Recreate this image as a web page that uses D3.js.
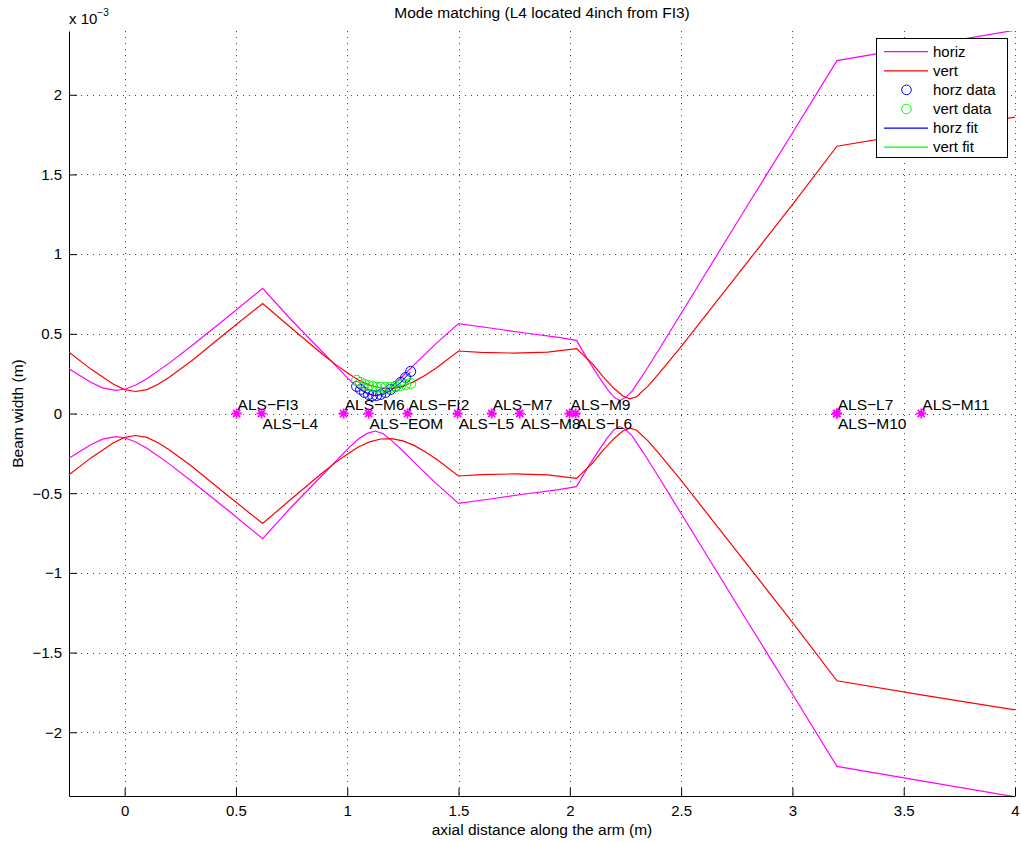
<!DOCTYPE html>
<html>
<head>
<meta charset="utf-8">
<script src="https://cdn.jsdelivr.net/npm/d3@7"></script>
<style>
  body { margin: 0; background: #fff; }
  text { font-family: "Liberation Sans", Arial, Helvetica, sans-serif; fill: #000; }
</style>
</head>
<body>
<div id="chart"></div>
<script>
// beam width envelope (units of 1e-3 m)
const horizX = [-0.25, -0.2, -0.15, -0.1, -0.04, 0.0, 0.05, 0.1, 0.2, 0.3, 0.45, 0.62,
                0.75, 0.9, 1.0, 1.05, 1.09, 1.125, 1.16, 1.2, 1.25, 1.3, 1.4, 1.5,
                1.65, 1.8, 1.95, 2.03,
                2.08, 2.13, 2.17, 2.2, 2.225, 2.25, 2.28, 2.33, 2.4, 2.6, 2.8, 3.0, 3.2,
                3.6, 4.0];
const horizW = [0.28, 0.237, 0.194, 0.161, 0.145, 0.152, 0.179, 0.218, 0.316, 0.423, 0.591, 0.785,
                0.585, 0.37, 0.225, 0.16, 0.125, 0.11, 0.125, 0.17, 0.235, 0.305, 0.44, 0.564,
                0.535, 0.505, 0.478, 0.459,
                0.34, 0.231, 0.15, 0.1, 0.082, 0.1, 0.14, 0.245, 0.4, 0.855, 1.31, 1.76, 2.214,
                2.31, 2.405];

const vertX = [-0.25, -0.15, -0.05, 0.0, 0.05, 0.1, 0.15, 0.2, 0.3, 0.45, 0.62,
               0.75, 0.89, 0.95, 1.0, 1.05, 1.1, 1.15, 1.2, 1.25, 1.3, 1.35, 1.4, 1.5,
               1.6, 1.75, 1.9, 2.03,
               2.1, 2.15, 2.2, 2.24, 2.27, 2.3, 2.35, 2.4, 2.5, 2.7, 3.0, 3.2,
               3.6, 4.0];
const vertW = [0.385, 0.277, 0.183, 0.15, 0.138, 0.15, 0.183, 0.227, 0.33, 0.5, 0.69,
               0.535, 0.37, 0.305, 0.255, 0.21, 0.178, 0.16, 0.158, 0.172, 0.2, 0.24, 0.285, 0.392,
               0.383, 0.379, 0.385, 0.407,
               0.315, 0.23, 0.155, 0.108, 0.092, 0.105, 0.17, 0.25, 0.42, 0.775, 1.31, 1.677,
               1.77, 1.86];

// measured points
const dataX = [1.042, 1.060, 1.078, 1.096, 1.114, 1.132, 1.150, 1.172, 1.195, 1.217, 1.240, 1.262, 1.285];
const horzData = [0.170, 0.151, 0.132, 0.119, 0.113, 0.113, 0.119, 0.132, 0.151, 0.170, 0.195, 0.226, 0.264];
const vertData = [0.208, 0.195, 0.182, 0.176, 0.170, 0.164, 0.164, 0.164, 0.164, 0.170, 0.176, 0.182, 0.189];

const fitX = [1.04, 1.08, 1.12, 1.16, 1.2, 1.24, 1.285];
const horzFit = [0.168, 0.133, 0.114, 0.118, 0.148, 0.195, 0.262];
const vertFit = [0.205, 0.182, 0.168, 0.163, 0.165, 0.175, 0.19];

// optics along the arm
const optics = ["ALS−FI3", "ALS−L4", "ALS−M6", "ALS−EOM", "ALS−FI2", "ALS−L5", "ALS−M7",
                "ALS−M8", "ALS−M9", "ALS−L6", "ALS−L7", "ALS−M10", "ALS−M11"];
const opticsPos = [0.503, 0.615, 0.984, 1.096, 1.271, 1.496, 1.649, 1.775, 1.999, 2.026, 3.199, 3.2, 3.579];

const xTicks = [0, 0.5, 1, 1.5, 2, 2.5, 3, 3.5, 4];
const yTicks = [-2, -1.5, -1, -0.5, 0, 0.5, 1, 1.5, 2];

const legendNames = ["horiz", "vert", "horz data", "vert data", "horz fit", "vert fit"];

const width = 1021;
const height = 842;
const margin = { top: 31, right: 6, bottom: 46, left: 69 };

const svg = d3.select("#chart")
    .append("svg")
    .attr("width", width)
    .attr("height", height);

const x = d3.scaleLinear().domain([-0.25, 4]).range([margin.left, width - margin.right]);
const y = d3.scaleLinear().domain([-2.4, 2.4]).range([height - margin.bottom, margin.top]);

const fmt = d => d === 0 ? "0" : (d < 0 ? "−" : "") + Math.abs(d);

svg.append("defs").append("clipPath").attr("id", "clip")
    .append("rect")
    .attr("x", margin.left).attr("y", margin.top)
    .attr("width", width - margin.left - margin.right)
    .attr("height", height - margin.top - margin.bottom);

// dotted grid
const grid = svg.append("g").attr("stroke", "#444").attr("stroke-width", 1)
    .attr("stroke-dasharray", "1,5");
grid.selectAll(".gx").data(xTicks).enter().append("line")
    .attr("x1", d => Math.round(x(d)) + 0.5).attr("x2", d => Math.round(x(d)) + 0.5)
    .attr("y1", margin.top).attr("y2", height - margin.bottom);
grid.selectAll(".gy").data(yTicks).enter().append("line")
    .attr("y1", d => Math.round(y(d)) + 0.5).attr("y2", d => Math.round(y(d)) + 0.5)
    .attr("x1", margin.left).attr("x2", width - margin.right);

// axes, ticks pointing inward
svg.append("g")
    .attr("transform", `translate(0,${height - margin.bottom})`)
    .call(d3.axisBottom(x).tickValues(xTicks).tickFormat(fmt).tickSizeInner(-8).tickSizeOuter(0).tickPadding(9))
    .call(g => g.selectAll("text").attr("font-size", 15).attr("font-family", null))
    .call(g => g.selectAll("path, line").attr("stroke", "#000"));

svg.append("g")
    .attr("transform", `translate(${margin.left},0)`)
    .call(d3.axisLeft(y).tickValues(yTicks).tickFormat(fmt).tickSizeInner(-8).tickSizeOuter(0).tickPadding(7))
    .call(g => g.selectAll("text").attr("font-size", 15).attr("font-family", null))
    .call(g => g.selectAll("path, line").attr("stroke", "#000"));

// envelopes (+w and -w)
const plot = svg.append("g").attr("clip-path", "url(#clip)");
const line = d3.line().x(d => x(d[0])).y(d => y(d[1]));

function envelope(xs, ws, color) {
    const upper = xs.map((v, i) => [v, ws[i]]);
    const lower = xs.map((v, i) => [v, -ws[i]]);
    [upper, lower].forEach(pts => {
        plot.append("path")
            .attr("d", line(pts))
            .attr("fill", "none")
            .attr("stroke", color)
            .attr("stroke-width", 1.2);
    });
}
envelope(horizX, horizW, "#ff00ff");
envelope(vertX, vertW, "#ff0000");

// data circles
function circles(xs, ys, color) {
    plot.append("g").selectAll("circle")
        .data(xs.map((v, i) => [v, ys[i]]))
        .enter().append("circle")
        .attr("cx", d => x(d[0]))
        .attr("cy", d => y(d[1]))
        .attr("r", 5)
        .attr("fill", "none")
        .attr("stroke", color)
        .attr("stroke-width", 1);
}
circles(dataX, horzData, "#0000ff");
circles(dataX, vertData, "#00ff00");

plot.append("path").attr("d", line(fitX.map((v, i) => [v, horzFit[i]])))
    .attr("fill", "none").attr("stroke", "#0000ff").attr("stroke-width", 1);
plot.append("path").attr("d", line(fitX.map((v, i) => [v, vertFit[i]])))
    .attr("fill", "none").attr("stroke", "#00ff00").attr("stroke-width", 1);

// optics markers
function asterisk(r) {
    const a = r * Math.SQRT1_2;
    return `M${-r},0L${r},0M0,${-r}L0,${r}M${-a},${-a}L${a},${a}M${-a},${a}L${a},${-a}`;
}
const marks = svg.append("g").selectAll("g")
    .data(opticsPos.map((p, i) => ({ pos: p, name: optics[i], up: i % 2 === 0 })))
    .enter().append("g")
    .attr("transform", d => `translate(${x(d.pos)},${y(0)})`);
marks.append("path")
    .attr("d", asterisk(5))
    .attr("stroke", "#ff00ff")
    .attr("stroke-width", 1.8)
    .attr("fill", "none");
marks.append("text")
    .attr("x", 1)
    .attr("y", d => d.up ? -4 : 15)
    .attr("font-size", 15.5)
    .text(d => d.name);

// title and labels
svg.append("text")
    .attr("x", (margin.left + width - margin.right) / 2)
    .attr("y", 18)
    .attr("text-anchor", "middle")
    .attr("font-size", 15.5)
    .text("Mode matching (L4 located 4inch from FI3)");

svg.append("text")
    .attr("x", (margin.left + width - margin.right) / 2)
    .attr("y", 835)
    .attr("text-anchor", "middle")
    .attr("font-size", 15.5)
    .text("axial distance along the arm (m)");

svg.append("text")
    .attr("transform", `translate(23,${y(0)}) rotate(-90)`)
    .attr("text-anchor", "middle")
    .attr("font-size", 15.5)
    .text("Beam width (m)");

const expo = svg.append("text")
    .attr("x", 69)
    .attr("y", 24)
    .attr("font-size", 15)
    .text("x 10");
expo.append("tspan")
    .attr("dy", -8)
    .attr("font-size", 10)
    .text("−3");

// legend
const lg = svg.append("g");
lg.append("rect")
    .attr("x", 876.5).attr("y", 38.5)
    .attr("width", 131).attr("height", 119)
    .attr("fill", "#fff").attr("stroke", "#000").attr("stroke-width", 1);

const legendStyle = [
    { color: "#ff00ff", kind: "line" },
    { color: "#ff0000", kind: "line" },
    { color: "#0000ff", kind: "circle" },
    { color: "#00ff00", kind: "circle" },
    { color: "#0000ff", kind: "line" },
    { color: "#00ff00", kind: "line" }
];
legendNames.forEach((name, i) => {
    const ry = 51.7 + i * 19.1;
    const s = legendStyle[i];
    if (s.kind === "line") {
        lg.append("line").attr("x1", 884).attr("x2", 928).attr("y1", ry).attr("y2", ry)
            .attr("stroke", s.color).attr("stroke-width", 1.2);
    } else {
        lg.append("circle").attr("cx", 906.5).attr("cy", ry).attr("r", 4.8)
            .attr("fill", "none").attr("stroke", s.color).attr("stroke-width", 1);
    }
    lg.append("text").attr("x", 933).attr("y", ry).attr("dy", "0.35em")
        .attr("font-size", 15).text(name);
});
</script>
</body>
</html>
